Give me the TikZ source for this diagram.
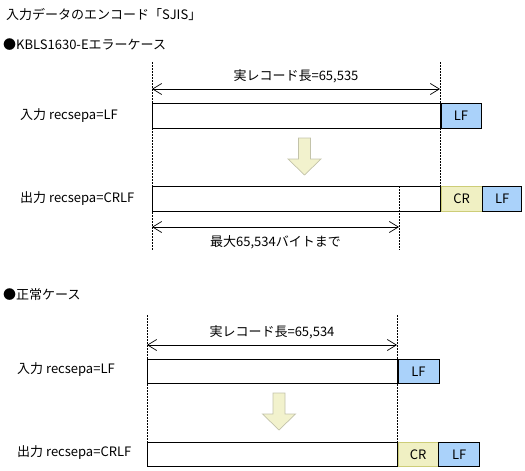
\documentclass[tikz,border=0pt]{standalone}
\usepackage{fontspec}
\setmainfont{Noto Sans CJK JP}
\usetikzlibrary{arrows.meta,positioning}
\definecolor{LFBlue}{RGB}{170, 210, 250}
\definecolor{CRYellow}{RGB}{240, 240, 195}
\definecolor{CRLine}{RGB}{205, 205, 120}
\definecolor{ConvFill}{RGB}{242, 242, 205}
\definecolor{ConvLine}{RGB}{195, 195, 170}

\begin{document}
\begin{tikzpicture}[
    x=1pt, y=-1pt,
    font=\fontsize{13}{15}\selectfont,
    recbox/.style={draw, rectangle, anchor=north west, inner sep=0pt, minimum height=25pt, line width=0.7pt},
    lfbox/.style={draw, rectangle, fill=LFBlue, inner sep=0pt, minimum width=40pt, minimum height=25pt, line width=0.7pt},
    crbox/.style={draw=CRLine, rectangle, fill=CRYellow, inner sep=0pt, minimum width=41pt, minimum height=25pt, line width=0.7pt},
    rowlabel/.style={anchor=west, inner sep=0pt},
    dimarrow/.style={{Straight Barb[length=9pt, width=11pt]}-{Straight Barb[length=9pt, width=11pt]}, line width=0.7pt},
    guide/.style={dash pattern=on 2pt off 1pt, line width=0.7pt},
    convarrow/.style={draw=ConvLine, fill=ConvFill, line width=0.7pt, line join=miter}
  ]
    \useasboundingbox (0,0) rectangle (525,471);

    % Headings
    \node[rowlabel] (title) at (6,15) {入力データのエンコード「SJIS」};
    \node[rowlabel] (case1) at (3,45) {●KBLS1630-Eエラーケース};
    \node[rowlabel] (case2) at (3,295) {●正常ケース};

    % Error case
    \draw[guide] (152,62) -- (152,250);
    \draw[guide] (399,186) -- (399,250);

    \coordinate (len1a) at (152,89);
    \coordinate (len1b) at (440,89);
    \draw[dimarrow] (len1a) -- (len1b) node[midway, yshift=13pt] {実レコード長=65,535};

    \node[rowlabel] (inlabel1) at (20,116) {入力 recsepa=LF};
    \node[recbox, minimum width=288pt] (in1) at (152,103) {};
    \node[lfbox, right=0pt of in1] (lf1) {LF};

    \draw[convarrow] (304.5,138) ++(-6,0) -- ++(12,0) -- ++(0,21) -- ++(10.5,0)
      -- ++(-16.5,16) -- ++(-16.5,-16) -- ++(10.5,0) -- cycle;

    \node[rowlabel] (outlabel1) at (20,199) {出力 recsepa=CRLF};
    \node[recbox, minimum width=288pt] (out1) at (152,186) {};
    \node[crbox, right=0pt of out1] (cr1) {CR};
    \node[lfbox, minimum width=39pt, right=0pt of cr1] (lf2) {LF};
    \draw[guide] (440,62) -- (440,211);

    \coordinate (max1a) at (152,227);
    \coordinate (max1b) at (399,227);
    \draw[dimarrow] (max1a) -- (max1b) node[midway, yshift=-15pt] {最大65,534バイトまで};

    % Normal case
    \coordinate (len2a) at (147,345);
    \coordinate (len2b) at (397,345);
    \draw[dimarrow] (len2a) -- (len2b) node[midway, yshift=13pt] {実レコード長=65,534};

    \node[rowlabel] (inlabel2) at (17,370) {入力 recsepa=LF};
    \node[recbox, minimum width=250pt, minimum height=24pt] (in2) at (147,359) {};
    \node[lfbox, minimum width=41pt, minimum height=24pt, right=0pt of in2] (lf3) {LF};

    \draw[convarrow] (279,393) ++(-6,0) -- ++(12,0) -- ++(0,21) -- ++(10.5,0)
      -- ++(-16.5,16) -- ++(-16.5,-16) -- ++(10.5,0) -- cycle;

    \node[rowlabel] (outlabel2) at (17,453) {出力 recsepa=CRLF};
    \node[recbox, minimum width=250pt, minimum height=24pt] (out2) at (147,442) {};
    \node[crbox, minimum width=40pt, minimum height=24pt, right=0pt of out2] (cr2) {CR};
    \node[lfbox, minimum width=41pt, minimum height=24pt, right=0pt of cr2] (lf4) {LF};
    \draw[guide] (147,315) -- (147,466);
    \draw[guide] (397,315) -- (397,466);
  \end{tikzpicture}
\end{document}
